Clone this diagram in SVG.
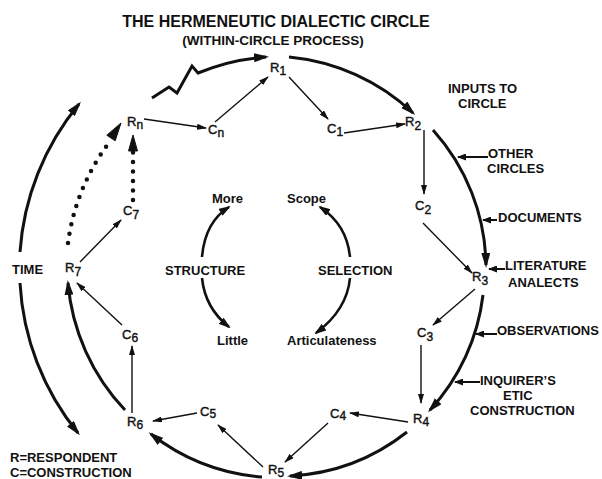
<svg xmlns="http://www.w3.org/2000/svg" width="602" height="479" viewBox="0 0 602 479">
<style>
text{font-family:"Liberation Sans",Arial,sans-serif;fill:#111}
.t{font-weight:bold}
.lbl{font-size:13px;font-weight:bold}
.node{font-size:13px;stroke:#111;stroke-width:0.4}
.sub{font-size:12px}
.thick{fill:none;stroke:#111;stroke-width:3;marker-end:url(#ahBig)}
.thin{fill:none;stroke:#111;stroke-width:1.4;marker-end:url(#ahSmall)}
.mid{fill:none;stroke:#111;stroke-width:2.6;marker-end:url(#ahMid)}
.inp{fill:none;stroke:#111;stroke-width:2;marker-end:url(#ahInp)}
.dots{fill:none;stroke:#111;stroke-width:4.5;stroke-linecap:round;stroke-dasharray:0 9.5}
.head{fill:#111;stroke:#111;stroke-width:1}
</style>
<defs>
<marker id="ahBig" markerUnits="userSpaceOnUse" markerWidth="15" markerHeight="9" refX="12" refY="4.5" orient="auto"><path d="M0,0 L15,4.5 L0,9 z" fill="#111"/></marker>
<marker id="ahMid" markerUnits="userSpaceOnUse" markerWidth="12" markerHeight="8" refX="10" refY="4" orient="auto"><path d="M0,0 L12,4 L0,8 z" fill="#111"/></marker>
<marker id="ahSmall" markerUnits="userSpaceOnUse" markerWidth="10" markerHeight="6" refX="9" refY="3" orient="auto"><path d="M0,0 L10,3 L0,6 z" fill="#111"/></marker>
<marker id="ahInp" markerUnits="userSpaceOnUse" markerWidth="9" markerHeight="7" refX="8" refY="3.5" orient="auto"><path d="M0,0 L9,3.5 L0,7 z" fill="#111"/></marker>
</defs>
<rect width="602" height="479" fill="#fff"/>

<g id="title">
<text class="t" x="276" y="27" font-size="16" text-anchor="middle">THE HERMENEUTIC DIALECTIC CIRCLE</text>
<text class="t" x="273" y="45" font-size="13.5" text-anchor="middle">(WITHIN-CIRCLE PROCESS)</text>
</g>

<g id="connectors">
<!-- outer circle -->
<path class="thick" d="M152,98 L169,87 L177,93 L192,66 L198,73 A213,213 0 0 1 266,57"/>
<path class="thick" d="M289,57 A210,210 0 0 1 413,113"/>
<path class="thick" d="M433,130 A206,206 0 0 1 486,265"/>
<path class="thick" d="M483,295 A205,205 0 0 1 430,410"/>
<path class="thick" d="M407,432 A206,206 0 0 1 290,476"/>
<path class="thick" d="M262,477 A207,207 0 0 1 151,434"/>
<path class="thick" d="M125,410 A210,210 0 0 1 68,283"/>
<path class="dots" d="M68,243 A214,214 0 0 1 108,144"/>
<polygon class="head" points="121,123 115.2,140.8 106.8,135.2"/>
<path class="dots" d="M133,200 L133,152"/>
<polygon class="head" points="133,135 137.5,151 128.5,151"/>
<!-- time -->
<path class="thick" d="M20,252 A260,260 0 0 1 79,104"/>
<path class="thick" d="M20,283 A260,260 0 0 0 78,433"/>
<!-- inner arrows -->
<path class="thin" d="M289,77 L328,119"/>
<path class="thin" d="M344,133 L405,124"/>
<path class="thin" d="M424,130 L424,194"/>
<path class="thin" d="M423,223 L472,273"/>
<path class="thin" d="M475,289 L433,325"/>
<path class="thin" d="M421,345 L421,403"/>
<path class="thin" d="M408,422 L350,413"/>
<path class="thin" d="M328,423 L285,462"/>
<path class="thin" d="M263,467 L218,425"/>
<path class="thin" d="M197,413 L153,421"/>
<path class="thin" d="M132,413 L132,346"/>
<path class="thin" d="M122,325 L77,283"/>
<path class="thin" d="M80,262 L121,220"/>
<path class="thin" d="M144,119 L206,128"/>
<path class="thin" d="M215,122 L268,77"/>
<!-- center -->
<path class="mid" d="M202,257 Q205,222 229,207"/>
<path class="mid" d="M202,278 Q205,308 229,327"/>
<path class="mid" d="M350,257 Q347,225 320,207"/>
<path class="mid" d="M350,278 Q347,310 316,333"/>
<!-- inputs -->
<path class="inp" d="M488,157 L458,157"/>
<path class="inp" d="M497,220 L483,220"/>
<path class="inp" d="M505,269 L489,269"/>
<path class="inp" d="M497,334 L476,334"/>
<path class="inp" d="M480,382 L455,382"/>
</g>

<g id="R1"><text class="node" x="270" y="72">R<tspan class="sub" dy="3">1</tspan></text></g>
<g id="C1"><text class="node" x="327" y="133">C<tspan class="sub" dy="3">1</tspan></text></g>
<g id="R2"><text class="node" x="405" y="126">R<tspan class="sub" dy="4">2</tspan></text></g>
<g id="C2"><text class="node" x="415" y="210">C<tspan class="sub" dy="4">2</tspan></text></g>
<g id="R3"><text class="node" x="472" y="281">R<tspan class="sub" dy="4">3</tspan></text></g>
<g id="C3"><text class="node" x="417" y="337">C<tspan class="sub" dy="4">3</tspan></text></g>
<g id="R4"><text class="node" x="413" y="423">R<tspan class="sub" dy="3">4</tspan></text></g>
<g id="C4"><text class="node" x="330" y="418">C<tspan class="sub" dy="2">4</tspan></text></g>
<g id="R5"><text class="node" x="268" y="474">R<tspan class="sub" dy="3">5</tspan></text></g>
<g id="C5"><text class="node" x="200" y="416">C<tspan class="sub" dy="2">5</tspan></text></g>
<g id="R6"><text class="node" x="127" y="426">R<tspan class="sub" dy="3">6</tspan></text></g>
<g id="C6"><text class="node" x="122" y="339">C<tspan class="sub" dy="3">6</tspan></text></g>
<g id="R7"><text class="node" x="65" y="272">R<tspan class="sub" dy="4">7</tspan></text></g>
<g id="C7"><text class="node" x="123" y="215">C<tspan class="sub" dy="4">7</tspan></text></g>
<g id="Rn"><text class="node" x="127" y="126">R<tspan class="sub" dy="3">n</tspan></text></g>
<g id="Cn"><text class="node" x="208" y="134">C<tspan class="sub" dy="3">n</tspan></text></g>

<g id="time"><text class="lbl" x="12" y="274">TIME</text></g>

<g id="structure">
<text class="lbl" x="212" y="203">More</text>
<text class="lbl" x="165" y="275">STRUCTURE</text>
<text class="lbl" x="217" y="345">Little</text>
</g>
<g id="selection">
<text class="lbl" x="287" y="203">Scope</text>
<text class="lbl" x="318" y="275">SELECTION</text>
<text class="lbl" x="287" y="345">Articulateness</text>
</g>

<g id="inputs">
<text class="lbl" x="448" y="93">INPUTS TO</text>
<text class="lbl" x="458" y="108">CIRCLE</text>
</g>
<g id="other"><text class="lbl" x="488" y="158">OTHER</text><text class="lbl" x="487" y="173">CIRCLES</text></g>
<g id="documents"><text class="lbl" x="498" y="222">DOCUMENTS</text></g>
<g id="literature"><text class="lbl" x="505" y="270">LITERATURE</text><text class="lbl" x="508" y="287">ANALECTS</text></g>
<g id="observations"><text class="lbl" x="497" y="335">OBSERVATIONS</text></g>
<g id="inquirer"><text class="lbl" x="480" y="385">INQUIRER’S</text><text class="lbl" x="503" y="400">ETIC</text><text class="lbl" x="470" y="415">CONSTRUCTION</text></g>

<g id="legend">
<text class="lbl" x="10" y="462">R=RESPONDENT</text>
<text class="lbl" x="10" y="477">C=CONSTRUCTION</text>
</g>
</svg>
